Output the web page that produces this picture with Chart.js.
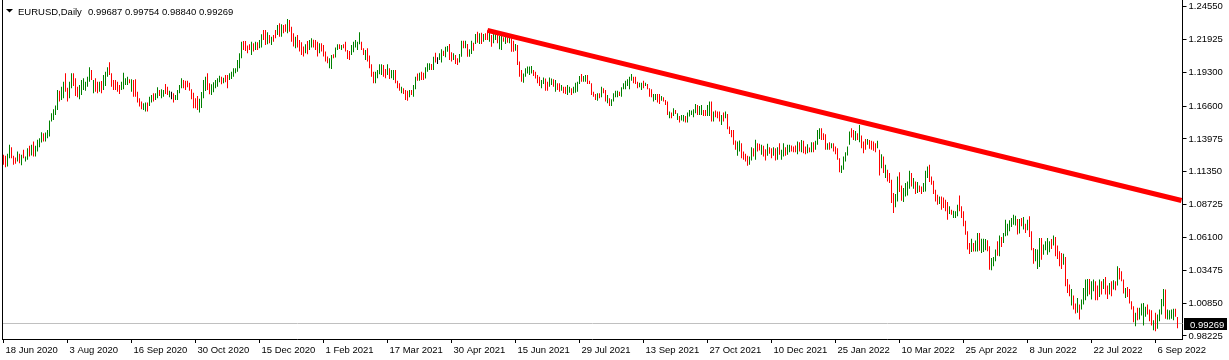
<!DOCTYPE html>
<html><head><meta charset="utf-8">
<script src="https://cdn.jsdelivr.net/npm/chart.js@4.4.0/dist/chart.umd.min.js"></script>
<style>
html,body{margin:0;padding:0;background:#fff;}
#wrap{position:relative;width:1229px;height:360px;}
</style></head><body>
<div id="wrap"><canvas id="c" width="1229" height="360"></canvas></div>
<script>
// ---------- DATA ----------
const symbolTitle = "EURUSD,Daily";
const lastQuote = ["0.99687", "0.99754", "0.98840", "0.99269"];
const currentPrice = 0.99269;

const highs = [
1.1271,1.1263,1.1279,1.1351,1.1332,1.1263,1.1250,1.1297,1.1279,1.1271,
1.1311,1.1258,1.1324,1.1343,1.1351,1.1377,1.1343,1.1391,1.1404,1.1452,
1.1444,1.1449,1.1470,1.1545,1.1603,1.1635,1.1665,1.1790,1.1784,1.1816,
1.1856,1.1923,1.1808,1.1856,1.1923,1.1923,1.1883,1.1816,1.1830,1.1869,
1.1883,1.1856,1.1896,1.1970,1.1949,1.1869,1.1883,1.1856,1.1856,1.1861,
1.1909,1.1936,1.1970,1.2010,1.1923,1.1869,1.1869,1.1856,1.1830,1.1856,
1.1928,1.1883,1.1896,1.1875,1.1875,1.1869,1.1875,1.1776,1.1723,1.1697,
1.1683,1.1689,1.1689,1.1736,1.1750,1.1763,1.1763,1.1811,1.1790,1.1795,
1.1790,1.1838,1.1816,1.1784,1.1776,1.1763,1.1750,1.1790,1.1830,1.1883,
1.1869,1.1864,1.1864,1.1848,1.1795,1.1768,1.1723,1.1742,1.1720,1.1774,
1.1870,1.1896,1.1923,1.1843,1.1835,1.1851,1.1870,1.1883,1.1904,1.1896,
1.1888,1.1909,1.1909,1.1923,1.1936,1.1963,1.1963,1.2029,1.2082,1.2175,
1.2181,1.2181,1.2144,1.2154,1.2175,1.2162,1.2175,1.2170,1.2189,1.2234,
1.2268,1.2268,1.2250,1.2229,1.2215,1.2229,1.2268,1.2308,1.2322,1.2314,
1.2308,1.2314,1.2356,1.2348,1.2295,1.2242,1.2215,1.2229,1.2189,1.2170,
1.2136,1.2154,1.2181,1.2189,1.2202,1.2191,1.2189,1.2175,1.2162,1.2162,
1.2149,1.2096,1.2056,1.2042,1.2069,1.2074,1.2128,1.2154,1.2154,1.2149,
1.2154,1.2175,1.2109,1.2101,1.2149,1.2175,1.2189,1.2175,1.2250,1.2175,
1.2122,1.2109,1.2122,1.2064,1.1995,1.1936,1.1936,1.1949,1.1995,1.1995,
1.1989,1.1957,1.1995,1.1963,1.1949,1.1949,1.1949,1.1864,1.1843,1.1816,
1.1803,1.1789,1.1784,1.1789,1.1789,1.1829,1.1896,1.1922,1.1928,1.1936,
1.1928,1.1970,1.2002,1.2002,1.1997,1.2055,1.2087,1.2050,1.2082,1.2114,
1.2103,1.2135,1.2141,1.2156,1.2090,1.2082,1.2069,1.2042,1.2077,1.2183,
1.2183,1.2183,1.2156,1.2114,1.2183,1.2167,1.2236,1.2255,1.2242,1.2247,
1.2236,1.2242,1.2266,1.2255,1.2228,1.2255,1.2236,1.2228,1.2220,1.2228,
1.2210,1.2220,1.2210,1.2220,1.2202,1.2183,1.2156,1.2148,1.2016,1.1949,
1.1922,1.1962,1.1976,1.1976,1.1981,1.1949,1.1936,1.1909,1.1896,1.1869,
1.1890,1.1882,1.1856,1.1890,1.1882,1.1875,1.1869,1.1843,1.1843,1.1829,
1.1816,1.1816,1.1829,1.1816,1.1803,1.1816,1.1848,1.1856,1.1901,1.1917,
1.1901,1.1909,1.1909,1.1864,1.1843,1.1776,1.1758,1.1763,1.1763,1.1816,
1.1803,1.1790,1.1750,1.1723,1.1715,1.1763,1.1784,1.1784,1.1776,1.1811,
1.1843,1.1864,1.1875,1.1896,1.1917,1.1896,1.1896,1.1856,1.1848,1.1848,
1.1864,1.1848,1.1837,1.1803,1.1795,1.1758,1.1758,1.1758,1.1758,1.1742,
1.1731,1.1710,1.1697,1.1617,1.1609,1.1643,1.1630,1.1603,1.1582,1.1590,
1.1590,1.1582,1.1609,1.1630,1.1625,1.1635,1.1678,1.1670,1.1662,1.1670,
1.1630,1.1630,1.1670,1.1697,1.1697,1.1617,1.1625,1.1617,1.1617,1.1590,
1.1609,1.1617,1.1598,1.1497,1.1470,1.1470,1.1385,1.1377,1.1385,1.1364,
1.1298,1.1279,1.1263,1.1258,1.1332,1.1324,1.1391,1.1364,1.1359,1.1351,
1.1343,1.1316,1.1359,1.1332,1.1324,1.1332,1.1324,1.1332,1.1364,1.1311,
1.1364,1.1332,1.1351,1.1351,1.1345,1.1337,1.1345,1.1377,1.1372,1.1390,
1.1383,1.1337,1.1356,1.1329,1.1372,1.1372,1.1383,1.1470,1.1484,1.1484,
1.1444,1.1436,1.1364,1.1372,1.1364,1.1364,1.1337,1.1324,1.1244,1.1186,
1.1258,1.1292,1.1337,1.1457,1.1484,1.1470,1.1462,1.1444,1.1510,1.1425,
1.1377,1.1398,1.1398,1.1390,1.1383,1.1377,1.1364,1.1383,1.1311,1.1276,
1.1258,1.1191,1.1151,1.1125,1.1071,1.0965,1.0957,1.1098,1.1132,1.1026,
1.1005,1.1045,1.1058,1.1143,1.1125,1.1085,1.1058,1.1053,1.1026,1.1018,
1.1045,1.1143,1.1178,1.1191,1.1098,1.1063,1.0992,1.0952,1.0938,1.0938,
1.0930,1.0912,1.0893,1.0859,1.0832,1.0824,1.0819,1.0872,1.0946,1.0859,
1.0819,1.0744,1.0659,1.0566,1.0600,1.0566,1.0585,1.0646,1.0646,1.0600,
1.0600,1.0598,1.0588,1.0540,1.0447,1.0455,1.0513,1.0580,1.0625,1.0614,
1.0646,1.0752,1.0720,1.0747,1.0766,1.0792,1.0784,1.0758,1.0758,1.0766,
1.0774,1.0720,1.0752,1.0779,1.0659,1.0526,1.0518,1.0513,1.0606,1.0606,
1.0553,1.0580,1.0606,1.0580,1.0598,1.0625,1.0614,1.0545,1.0500,1.0486,
1.0481,1.0455,1.0279,1.0234,1.0199,1.0146,1.0082,1.0127,1.0074,1.0114,
1.0207,1.0274,1.0279,1.0279,1.0260,1.0274,1.0260,1.0226,1.0274,1.0260,
1.0279,1.0295,1.0226,1.0247,1.0260,1.0268,1.0260,1.0380,1.0367,1.0340,
1.0274,1.0207,1.0215,1.0199,1.0101,1.0061,1.0008,1.0048,1.0048,1.0082,
1.0087,1.0056,1.0074,1.0034,1.0029,0.9949,1.0008,0.9994,1.0034,1.0119,
1.0199,1.0194,1.0034,1.0029,1.0034,1.0040,1.0040,0.9975
];

const lows = [
1.1191,1.1172,1.1178,1.1244,1.1244,1.1191,1.1199,1.1218,1.1204,1.1188,
1.1244,1.1218,1.1231,1.1258,1.1266,1.1258,1.1258,1.1297,1.1332,1.1369,
1.1377,1.1377,1.1404,1.1417,1.1537,1.1550,1.1590,1.1630,1.1697,1.1710,
1.1723,1.1776,1.1697,1.1723,1.1803,1.1821,1.1742,1.1731,1.1715,1.1750,
1.1790,1.1784,1.1816,1.1856,1.1869,1.1763,1.1776,1.1763,1.1776,1.1763,
1.1790,1.1821,1.1896,1.1909,1.1816,1.1790,1.1790,1.1776,1.1758,1.1790,
1.1795,1.1830,1.1830,1.1843,1.1776,1.1736,1.1736,1.1689,1.1657,1.1635,
1.1630,1.1617,1.1617,1.1662,1.1689,1.1697,1.1710,1.1723,1.1742,1.1723,
1.1736,1.1758,1.1750,1.1731,1.1715,1.1689,1.1710,1.1710,1.1763,1.1803,
1.1803,1.1790,1.1811,1.1784,1.1715,1.1643,1.1643,1.1630,1.1610,1.1646,
1.1723,1.1782,1.1790,1.1755,1.1750,1.1771,1.1803,1.1816,1.1851,1.1835,
1.1843,1.1851,1.1803,1.1870,1.1877,1.1896,1.1923,1.1936,1.1963,1.2042,
1.2109,1.2101,1.2082,1.2109,1.2069,1.2096,1.2109,1.2109,1.2122,1.2128,
1.2189,1.2149,1.2154,1.2162,1.2149,1.2175,1.2202,1.2229,1.2215,1.2215,
1.2242,1.2255,1.2242,1.2255,1.2175,1.2136,1.2122,1.2128,1.2096,1.2069,
1.2056,1.2082,1.2074,1.2109,1.2128,1.2128,1.2109,1.2056,1.2082,1.2096,
1.2056,1.2016,1.2003,1.1963,1.1957,1.2042,1.2048,1.2109,1.2117,1.2109,
1.2122,1.2096,1.2037,1.2029,1.2069,1.2090,1.2128,1.2109,1.2154,1.2109,
1.2069,1.2029,1.2016,1.1963,1.1896,1.1843,1.1843,1.1883,1.1915,1.1909,
1.1896,1.1883,1.1909,1.1877,1.1883,1.1870,1.1843,1.1803,1.1784,1.1763,
1.1758,1.1710,1.1704,1.1731,1.1750,1.1736,1.1795,1.1864,1.1864,1.1869,
1.1869,1.1882,1.1936,1.1949,1.1949,1.1949,1.2008,1.1997,1.2029,1.2008,
1.2061,1.2050,1.2095,1.2029,1.2016,1.2029,1.1997,1.1989,1.2008,1.2055,
1.2122,1.2122,1.2055,1.2055,1.2077,1.2103,1.2156,1.2167,1.2156,1.2156,
1.2175,1.2188,1.2188,1.2175,1.2135,1.2162,1.2188,1.2162,1.2114,1.2109,
1.2175,1.2156,1.2167,1.2162,1.2095,1.2095,1.2103,1.1989,1.1896,1.1856,
1.1848,1.1896,1.1922,1.1909,1.1922,1.1901,1.1882,1.1843,1.1821,1.1803,
1.1837,1.1784,1.1784,1.1816,1.1829,1.1816,1.1776,1.1789,1.1776,1.1784,
1.1763,1.1758,1.1750,1.1768,1.1750,1.1763,1.1768,1.1776,1.1837,1.1856,
1.1856,1.1856,1.1837,1.1837,1.1750,1.1736,1.1710,1.1704,1.1723,1.1731,
1.1763,1.1697,1.1683,1.1662,1.1662,1.1697,1.1731,1.1731,1.1742,1.1736,
1.1795,1.1795,1.1822,1.1795,1.1864,1.1843,1.1837,1.1803,1.1811,1.1790,
1.1803,1.1822,1.1795,1.1736,1.1731,1.1697,1.1710,1.1689,1.1678,1.1704,
1.1697,1.1670,1.1590,1.1564,1.1564,1.1582,1.1598,1.1550,1.1529,1.1545,
1.1537,1.1529,1.1529,1.1577,1.1590,1.1571,1.1603,1.1590,1.1590,1.1590,
1.1582,1.1582,1.1582,1.1582,1.1537,1.1537,1.1571,1.1564,1.1537,1.1510,
1.1537,1.1564,1.1476,1.1438,1.1412,1.1351,1.1311,1.1263,1.1297,1.1244,
1.1231,1.1218,1.1183,1.1191,1.1226,1.1258,1.1231,1.1297,1.1305,1.1271,
1.1258,1.1226,1.1263,1.1279,1.1244,1.1263,1.1226,1.1231,1.1271,1.1231,
1.1258,1.1263,1.1271,1.1292,1.1297,1.1292,1.1292,1.1276,1.1297,1.1292,
1.1284,1.1276,1.1284,1.1292,1.1292,1.1292,1.1311,1.1351,1.1398,1.1390,
1.1390,1.1311,1.1311,1.1311,1.1324,1.1297,1.1276,1.1231,1.1132,1.1125,
1.1151,1.1218,1.1265,1.1351,1.1409,1.1390,1.1383,1.1390,1.1372,1.1324,
1.1284,1.1311,1.1351,1.1319,1.1311,1.1303,1.1292,1.1324,1.1106,1.1164,
1.1125,1.1085,1.1058,1.1045,1.0885,1.0805,1.0851,1.0898,1.0973,1.0904,
1.0893,1.0938,1.0946,1.0999,1.1018,1.0999,1.0957,1.0965,1.0973,1.0957,
1.0973,1.0978,1.1085,1.1053,1.1031,1.0957,1.0898,1.0872,1.0877,1.0832,
1.0845,1.0819,1.0752,1.0797,1.0792,1.0765,1.0765,1.0779,1.0819,1.0765,
1.0699,1.0632,1.0513,1.0478,1.0494,1.0499,1.0499,1.0499,1.0505,1.0486,
1.0494,1.0508,1.0500,1.0353,1.0348,1.0380,1.0420,1.0465,1.0460,1.0534,
1.0566,1.0619,1.0625,1.0659,1.0694,1.0712,1.0705,1.0633,1.0641,1.0699,
1.0673,1.0646,1.0667,1.0614,1.0508,1.0401,1.0420,1.0359,1.0375,1.0433,
1.0473,1.0508,1.0473,1.0492,1.0518,1.0545,1.0460,1.0439,1.0380,1.0359,
1.0393,1.0220,1.0167,1.0141,1.0066,1.0034,1.0002,1.0008,0.9954,1.0034,
1.0074,1.0109,1.0141,1.0154,1.0114,1.0181,1.0109,1.0109,1.0135,1.0154,
1.0199,1.0154,1.0119,1.0154,1.0141,1.0194,1.0189,1.0226,1.0274,1.0260,
1.0162,1.0127,1.0135,1.0082,1.0034,0.9933,0.9901,0.9949,0.9954,0.9986,
0.9907,0.9976,0.9994,0.9941,0.9907,0.9869,0.9861,0.9880,0.9941,0.9994,
1.0061,0.9960,0.9954,0.9954,0.9960,0.9949,0.9976,0.9884
];

// bar direction: G = close above open, R = close below open, K = unchanged
const barDirections = [
"RRGGRRRGRG","RGGRGRGGGG","RGGGGGGGRG","GRRGGRRRGG","GGGGRGRRGR",
"GGGRRRRRRG","GGGRGRRRRR","GGRGGRGGRG","GRRGKRGGGG","RRRRRRRRGG",
"GGRRGGGGGR","GRRGGGGGGG","RRRRGRGRGG","RRGRGRRGRG","RRGRRRGRRR",
"RGRGGRRRGR","RRRGGRGGRG","RRRRGGGGGR","RGRRRRGGGG","RRGRGGRRRG",
"RRRGRGGRGR","RGGGRGRKGG","RGGRRGRRGG","RGRGGRGRGR","GRRGRGGRGG",
"RGRGRRGRRR","GGGGGRRRRG","GRRGGRGRRG","RRGGRGGGGR","GGRRRRRGRG",
"RRGRGGGGRG","GGGGGRRRGG","RGRRRGGRRG","RRRGRGRGRG","GRGGGGGRGG",
"RRGGRGRRRG","RGRRRRRGGR","RRRGGRGRRG","RRGRRGRGRG","GRGGRRRGRG",
"RRGRGRGGGR","RRGRGRRRRG","GGGGRRGRGR","RRGRRRRGRG","RGRRRRGGRR",
"GGGGRGRGRR","GGGRRRRRGR","RRRGRGGGRR","RRRRGRGGRG","GGRRGGGRGR",
"GGGGGGGRGR","GRGRRRGGGR","GGGGRGRRRR","GRRRGRRGRG","GGGRGGRRGR",
"GRRGRGRGRR","RGRRRRGRGG","GGRRRGRGGG","GRGGGGRR"
].join("");

// date axis labels, one every 32 daily bars starting at the first bar
const xTickLabels = ["18 Jun 2020","3 Aug 2020","16 Sep 2020","30 Oct 2020","15 Dec 2020",
  "1 Feb 2021","17 Mar 2021","30 Apr 2021","15 Jun 2021","29 Jul 2021","13 Sep 2021",
  "27 Oct 2021","10 Dec 2021","25 Jan 2022","10 Mar 2022","25 Apr 2022","8 Jun 2022",
  "22 Jul 2022","6 Sep 2022"];
const barsPerDateLabel = 32;
const emptyBarsRight = 2; // chart shift

const yTickValues = [1.24550,1.21925,1.19300,1.16600,1.13975,1.11350,1.08725,1.06100,1.03475,1.00850,0.98225];
const yMin = 0.97985, yMax = 1.25086;

// trend line anchors: [bar index, price]
const trendStart = [242, 1.2266];
const trendEnd = [589, 1.0906];

// ---------- BUILD ----------
const nBars = highs.length;
const nCat = nBars + emptyBarsRight;
const categories = Array.from({length: nCat}, (_, i) => i);
const dirColor = {G: '#008000', R: '#ff0000', K: '#000000'};
const barColors = Array.from(barDirections).map(c => dirColor[c]);
const barData = highs.map((h, i) => [lows[i], h]);
const trendData = categories.map(i => i === trendStart[0] ? trendStart[1] : (i === trendEnd[0] ? trendEnd[1] : null));
const xTickMap = new Map(xTickLabels.map((t, k) => [k * barsPerDateLabel, t]));

const fontFamily = '"Liberation Sans", Arial, sans-serif';
const fontSize = 9.5;
const fnt = {family: fontFamily, size: fontSize};

function noPad(s) { s.paddingTop = 0; s.paddingBottom = 0; s.paddingLeft = 0; s.paddingRight = 0; }

const mt4 = {
  id: 'mt4',
  beforeDatasetsDraw(chart) {
    const {ctx, chartArea: a, scales: {y}} = chart;
    const py = Math.round(y.getPixelForValue(currentPrice)) + 0.5;
    ctx.save();
    ctx.strokeStyle = '#c0c0c0'; ctx.lineWidth = 1;
    ctx.beginPath(); ctx.moveTo(a.left, py); ctx.lineTo(a.right, py); ctx.stroke();
    ctx.restore();
  },
  afterDraw(chart) {
    const {ctx, chartArea: a, scales: {y}} = chart;
    ctx.save();
    ctx.strokeStyle = '#000'; ctx.lineWidth = 1;
    const lx = Math.floor(a.left) + 0.5;
    ctx.beginPath(); ctx.moveTo(lx, 0); ctx.lineTo(lx, a.bottom); ctx.stroke();
    const py = Math.round(y.getPixelForValue(currentPrice));
    ctx.fillStyle = '#000';
    ctx.fillRect(Math.round(a.right) + 1, py - 5, 43, 12);
    ctx.fillStyle = '#fff';
    ctx.font = fontSize + 'px ' + fontFamily;
    ctx.textAlign = 'left'; ctx.textBaseline = 'alphabetic';
    ctx.fillText(currentPrice.toFixed(5), Math.round(a.right) + 7, py + 4.5);
    ctx.fillStyle = '#000';
    ctx.beginPath(); ctx.moveTo(6, 9); ctx.lineTo(13, 9); ctx.lineTo(9.5, 12.5); ctx.closePath(); ctx.fill();
    ctx.fillText(symbolTitle, 18, 15);
    ctx.fillText(lastQuote.join(' '), 88, 15);
    ctx.restore();
  }
};

new Chart(document.getElementById('c'), {
  data: {
    labels: categories,
    datasets: [
      {
        type: 'line', data: trendData, borderColor: '#ff0000', borderWidth: 5,
        pointRadius: 0, spanGaps: true, tension: 0, borderCapStyle: 'butt', order: 0
      },
      {
        type: 'bar', data: barData, backgroundColor: barColors, borderWidth: 0,
        barThickness: 1, inflateAmount: 0, grouped: false, order: 1
      }
    ]
  },
  options: {
    responsive: false, animation: false, devicePixelRatio: 1,
    layout: {padding: {left: 2.5, top: 0, right: 0, bottom: 0}},
    plugins: {legend: {display: false}, tooltip: {enabled: false}, title: {display: false}},
    events: [],
    scales: {
      x: {
        type: 'category', offset: true, bounds: 'ticks',
        grid: {display: true, drawOnChartArea: false, drawTicks: true, tickLength: 4, color: '#000', offset: false},
        border: {display: true, color: '#000', width: 1},
        ticks: {autoSkip: false, maxRotation: 0, minRotation: 0, align: 'start', labelOffset: 2, padding: 2,
          color: '#000', font: fnt, callback: (v) => xTickMap.get(v) ?? ''},
        afterBuildTicks: (s) => { s.ticks = [...xTickMap.keys()].map(v => ({value: v})); },
        afterFit: (s) => { s.height = 21; noPad(s); }
      },
      y: {
        type: 'linear', position: 'right', min: yMin, max: yMax,
        grid: {display: true, drawOnChartArea: false, drawTicks: true, tickLength: 4, color: '#000'},
        border: {display: true, color: '#000', width: 1},
        ticks: {padding: 2, color: '#000', font: fnt, callback: (v) => Number(v).toFixed(5)},
        afterBuildTicks: (s) => { s.ticks = yTickValues.map(v => ({value: v})); },
        afterFit: (s) => { s.width = 46.5; noPad(s); }
      }
    }
  },
  plugins: [mt4]
});
</script>
</body></html>
